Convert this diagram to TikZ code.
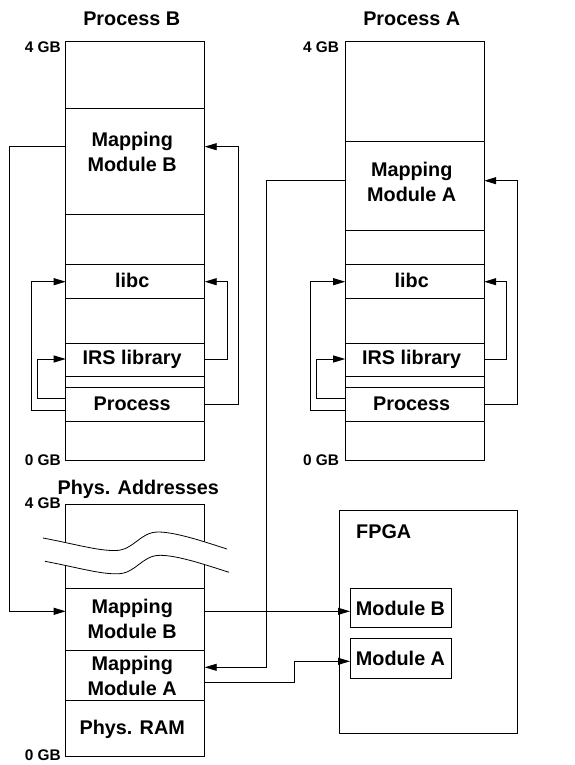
\documentclass[tikz,border=0pt]{standalone}
\usepackage{fontspec}
\setmainfont{Liberation Sans}
\usetikzlibrary{arrows.meta}
\begin{document}
\begin{tikzpicture}[x=1pt,y=-1pt,
  seg/.style={draw, line width=0.9pt, rectangle, minimum width=139pt, inner sep=0pt, outer sep=0pt},
  box/.style={draw, line width=0.9pt, rectangle, inner sep=0pt, outer sep=0pt},
  lbl/.style={font=\fontsize{19.8}{25}\selectfont\bfseries, align=center, inner sep=0pt},
  lblb/.style={lbl, anchor=base},
  gb/.style={font=\fontsize{15.4}{18}\selectfont\bfseries, inner sep=0pt, anchor=base east},
  conn/.style={line width=0.9pt, -{Triangle[length=12pt,width=7pt]}},
  brk/.style={line width=0.8pt}]
\useasboundingbox (0,0) rectangle (574,765);

% ---------- Process B column ----------
\node[seg, minimum height=67pt]   (bTop)  at (135.2,74.8) {};
\node[seg, minimum height=106pt]  (bMB)   at (135.2,161.3) {};
\node[seg, minimum height=50pt]   (bE1)   at (135.2,239.3) {};
\node[seg, minimum height=34pt]   (bLibc) at (135.2,281.3) {};
\node[seg, minimum height=44.7pt] (bE2)   at (135.2,320.65) {};
\node[seg, minimum height=33.7pt] (bIRS)  at (135.2,359.85) {};
\node[seg, minimum height=10.6pt] (bThin) at (135.2,382) {};
\node[seg, minimum height=34pt]   (bProc) at (135.2,404.3) {};
\node[seg, minimum height=38.7pt] (bBot)  at (135.2,440.65) {};

\node[lblb] (tPB)    at (131.7,25.7)  {Process B};
\node[lbl]  (tbMB)   at (132.2,152)   {Mapping\\Module B};
\node[lblb] (tbLibc) at (132.2,287.5) {libc};
\node[lblb] (tbIRS)  at (132.2,364.3) {IRS library};
\node[lblb] (tbProc) at (132.2,410)   {Process};
\node[gb]   (gbB4)   at (61,52.3)     {4 GB};
\node[gb]   (gbB0)   at (61,465)      {0 GB};

% ---------- Process A column ----------
\node[seg, minimum height=100.4pt] (aTop)  at (414.7,91.5) {};
\node[seg, minimum height=89pt]    (aMA)   at (414.7,186.2) {};
\node[seg, minimum height=33.6pt]  (aE1)   at (414.7,247.5) {};
\node[seg, minimum height=34pt]    (aLibc) at (414.7,281.3) {};
\node[seg, minimum height=44.7pt]  (aE2)   at (414.7,320.65) {};
\node[seg, minimum height=33.7pt]  (aIRS)  at (414.7,359.85) {};
\node[seg, minimum height=10.6pt]  (aThin) at (414.7,382) {};
\node[seg, minimum height=34pt]    (aProc) at (414.7,404.3) {};
\node[seg, minimum height=38.7pt]  (aBot)  at (414.7,440.65) {};

\node[lblb] (tPA)    at (411.7,25.7)  {Process A};
\node[lbl]  (taMA)   at (411.7,181.7) {Mapping\\Module A};
\node[lblb] (taLibc) at (411.7,287.5) {libc};
\node[lblb] (taIRS)  at (411.7,364.3) {IRS library};
\node[lblb] (taProc) at (411.7,410)   {Process};
\node[gb]   (gbA4)   at (339.3,52.3)  {4 GB};
\node[gb]   (gbA0)   at (339.3,465)   {0 GB};

% ---------- Physical addresses column ----------
\node[seg, minimum height=84pt]   (pTop) at (135.2,546.3) {};
\node[seg, minimum height=61.7pt] (pMB)  at (135.2,619.15) {};
\node[seg, minimum height=50pt]   (pMA)  at (135.2,675) {};
\node[seg, minimum height=56pt]   (pRAM) at (135.2,728) {};

% break marks
\fill[white] (43,538) .. controls (75,544) and (98,551) .. (116,550.5)
  .. controls (134,550) and (140,532) .. (158,532)
  .. controls (176,532) and (205,542) .. (227,549)
  -- (229,572.3) .. controls (207,565.3) and (178,555.3) .. (160,555.3)
  .. controls (142,555.3) and (136,573.3) .. (118,573.8)
  .. controls (100,574.3) and (77,567.3) .. (45,561.3) -- cycle;
\draw[brk] (43,538) .. controls (75,544) and (98,551) .. (116,550.5)
  .. controls (134,550) and (140,532) .. (158,532)
  .. controls (176,532) and (205,542) .. (227,549);
\draw[brk] (45,561.3) .. controls (77,567.3) and (100,574.3) .. (118,573.8)
  .. controls (136,573.3) and (142,555.3) .. (160,555.3)
  .. controls (178,555.3) and (207,565.3) .. (229,572.3);

\node[lblb] (tPhys) at (138.3,494)   {Phys. Addresses};
\node[lbl]  (tpMB)  at (132.2,619.3) {Mapping\\Module B};
\node[lbl]  (tpMA)  at (132.2,676.3) {Mapping\\Module A};
\node[lblb] (tpRAM) at (132.2,734)   {Phys. RAM};
\node[gb]   (gbP4)  at (61,508.3)    {4 GB};
\node[gb]   (gbP0)  at (61,760)      {0 GB};

% ---------- FPGA ----------
\node[box, minimum width=178.7pt, minimum height=223.4pt] (fpga) at (428.35,622) {};
\node[lbl, anchor=base west] (tFPGA) at (356,538.3) {FPGA};
\node[box, minimum width=101pt, minimum height=39.4pt, font=\fontsize{19.8}{25}\selectfont\bfseries] (modB) at (400.5,608) {Module B};
\node[box, minimum width=101pt, minimum height=39.3pt, font=\fontsize{19.8}{25}\selectfont\bfseries] (modA) at (400.5,658.35) {Module A};

% ---------- helper coordinates ----------
\coordinate (y147) at (0,146.7);
\coordinate (y181) at (0,180.7);
\coordinate (y282) at (0,281.7);
\coordinate (y359) at (0,359);
\coordinate (y398) at (0,398.3);
\coordinate (y404) at (0,404);
\coordinate (y410) at (0,410);
\coordinate (y611) at (0,611.3);
\coordinate (y661) at (0,661.3);
\coordinate (y667) at (0,667.3);
\coordinate (y682) at (0,682.3);
\coordinate (xb1) at (9.3,0);
\coordinate (xb2) at (31.7,0);
\coordinate (xb3) at (37.3,0);
\coordinate (xb4) at (227.7,0);
\coordinate (xb5) at (238.3,0);
\coordinate (xa1) at (266.7,0);
\coordinate (xa2) at (310.7,0);
\coordinate (xa3) at (316.7,0);
\coordinate (xa4) at (506.7,0);
\coordinate (xa5) at (517.7,0);
\coordinate (xp)  at (294.3,0);

% ---------- connectors: Process B ----------
\draw[conn] (bMB.west |- y147) -| (xb1 |- y611) -- (pMB.west |- y611);
\draw[conn] (bProc.east |- y404) -| (xb5 |- y147) -- (bMB.east |- y147);
\draw[conn] (bIRS.east |- y359) -| (xb4 |- y282) -- (bLibc.east |- y282);
\draw[conn] (bProc.west |- y410) -| (xb2 |- y282) -- (bLibc.west |- y282);
\draw[conn] (bProc.west |- y398) -| (xb3 |- y359) -- (bIRS.west |- y359);

% ---------- connectors: Process A ----------
\draw[conn] (aMA.west |- y181) -| (xa1 |- y667) -- (pMA.east |- y667);
\draw[conn] (aProc.east |- y404) -| (xa5 |- y181) -- (aMA.east |- y181);
\draw[conn] (aIRS.east |- y359) -| (xa4 |- y282) -- (aLibc.east |- y282);
\draw[conn] (aProc.west |- y410) -| (xa2 |- y282) -- (aLibc.west |- y282);
\draw[conn] (aProc.west |- y398) -| (xa3 |- y359) -- (aIRS.west |- y359);

% ---------- connectors: physical to FPGA ----------
\draw[conn] (pMB.east |- y611) -- (modB.west |- y611);
\draw[conn] (pMA.east |- y682) -| (xp |- y661) -- (modA.west |- y661);
\end{tikzpicture}
\end{document}
